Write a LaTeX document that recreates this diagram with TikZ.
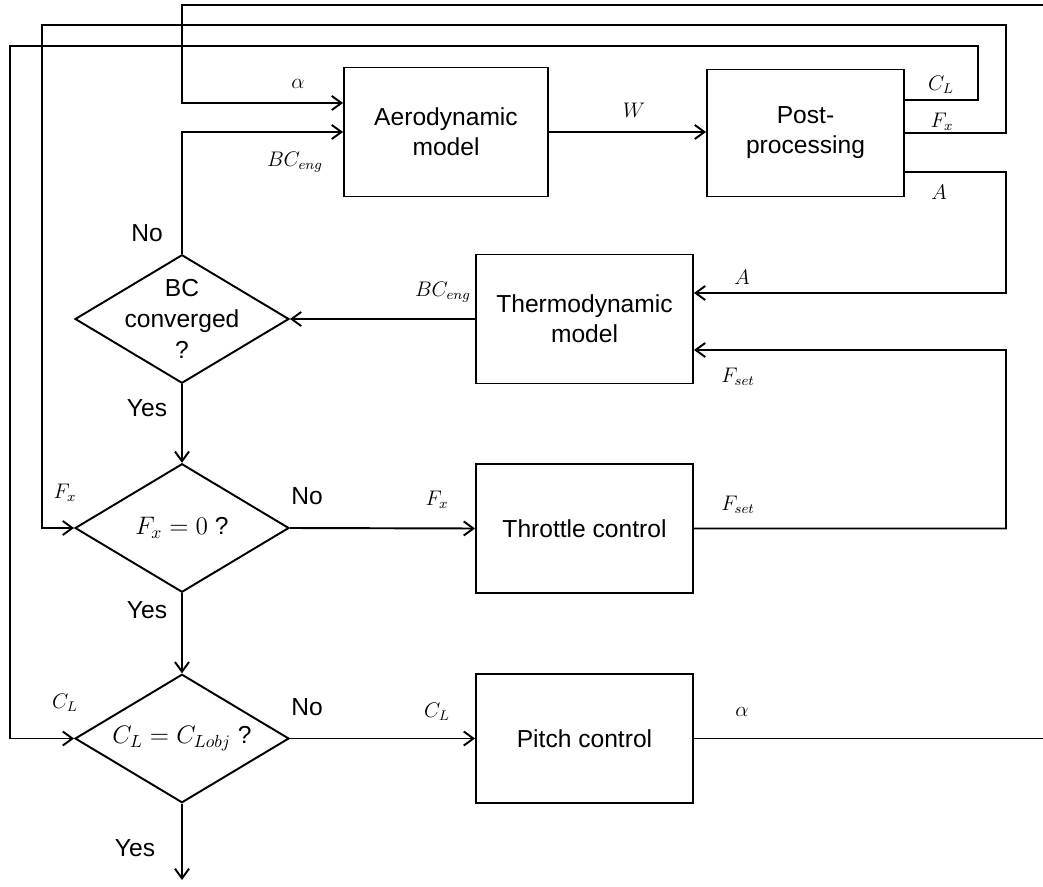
\documentclass[tikz,border=0pt]{standalone}
\usepackage{fontspec}
\setmainfont{Liberation Sans}
\usepackage{tikz}
\usetikzlibrary{arrows.meta, positioning, calc, shapes.geometric}

\begin{document}
\begin{tikzpicture}[x=0.02cm, y=0.02cm,
  blk/.style={draw, line width=1.1pt, font=\fontsize{14}{17}\selectfont,
              align=center, inner sep=2pt},
  dec/.style={draw, diamond, line width=1.1pt, inner sep=0pt,
              minimum width=4.28cm, minimum height=2.57cm},
  lbl/.style={font=\fontsize{14}{17.5}\selectfont, align=center},
  sym/.style={font=\fontsize{12}{14}\selectfont, inner sep=1pt},
  wire/.style={line width=1.1pt},
  >={Straight Barb[length=5.5pt,width=8pt]}]
\useasboundingbox (0,0) rectangle (1043,886);
\node[blk, minimum width=4.08cm, minimum height=2.58cm] (aero) at (446,754) {Aerodynamic\\model};
\node[blk, minimum width=3.94cm, minimum height=2.54cm] (post) at (805.5,753) {Post-\\processing};
\node[blk, minimum width=4.34cm, minimum height=2.58cm] (thermo) at (584.5,567) {Thermodynamic\\model};
\node[blk, minimum width=4.34cm, minimum height=2.58cm] (throttle) at (584.5,357.5) {Throttle control};
\node[blk, minimum width=4.34cm, minimum height=2.58cm] (pitch) at (584.5,147.5) {Pitch control};
\node[dec, label={[lbl]center:BC\\converged\\?}] (bcconv) at (182,567) {};
\node[dec, label={[lbl]center:$F_x = 0$ ?}] (fxzero) at (182,358) {};
\node[dec, label={[lbl]center:$C_L = C_{Lobj}$ ?}] (clobj) at (182,147.5) {};
\coordinate (alphain) at (1043,881);
\coordinate (alphaout) at (1043,147.5);
\coordinate (done) at (182,6);

\draw[wire,->] (alphain) -- (182,881) |- ([yshift=0.58cm]aero.west);
\draw[wire,->] (bcconv.north) |- (aero.west);
\draw[wire,->] (aero.east) -- (aero.east -| post.west);
\draw[wire,->] ([yshift=0.66cm]post.east) -| (978,840) -- (10,840) |- (clobj.west);
\draw[wire,->] (post.east) -| (1006,861) -- (42,861) |- (fxzero.west);
\draw[wire,->] ([yshift=-0.78cm]post.east) -| (1006,593) -- ([yshift=0.52cm]thermo.east);
\draw[wire,->] (throttle.east) -| (1006,536) -- ([yshift=-0.62cm]thermo.east);
\draw[wire,->] (thermo.west) -- (bcconv.east);
\draw[wire,->] (bcconv.south) -- (fxzero.north);
\draw[wire,->] (fxzero.east) -- (throttle.west);
\draw[wire,->] (fxzero.south) -- (clobj.north);
\draw[wire,->] (clobj.east) -- (pitch.west);
\draw[wire,->] (clobj.south) -- (done);
\draw[wire] (pitch.east) -- (alphaout);

\node[sym] (alphaA) at (298,802) {$\alpha$};
\node[sym] (bcA) at (295,724) {$BC_{eng}$};
\node[sym] (wlab) at (634,776) {$W$};
\node[sym] (clA) at (941,801) {$C_L$};
\node[sym] (fxA) at (942,764) {$F_x$};
\node[sym] (aA) at (939,694) {$A$};
\node[sym] (aB) at (742,609) {$A$};
\node[sym] (fsetA) at (738,509) {$F_{set}$};
\node[sym] (fsetB) at (738,381) {$F_{set}$};
\node[sym] (bcB) at (443,594) {$BC_{eng}$};
\node[sym] (fxB) at (65,393) {$F_x$};
\node[sym] (fxC) at (437,386) {$F_x$};
\node[sym] (clB) at (65,183) {$C_L$};
\node[sym] (clC) at (437,174) {$C_L$};
\node[sym] (alphaB) at (742,174) {$\alpha$};
\node[lbl] (noA) at (147,653) {No};
\node[lbl] (yesA) at (147,478) {Yes};
\node[lbl] (noB) at (307,390) {No};
\node[lbl] (yesB) at (147,276) {Yes};
\node[lbl] (noC) at (307,179) {No};
\node[lbl] (yesC) at (135,38) {Yes};
\end{tikzpicture}
\end{document}
